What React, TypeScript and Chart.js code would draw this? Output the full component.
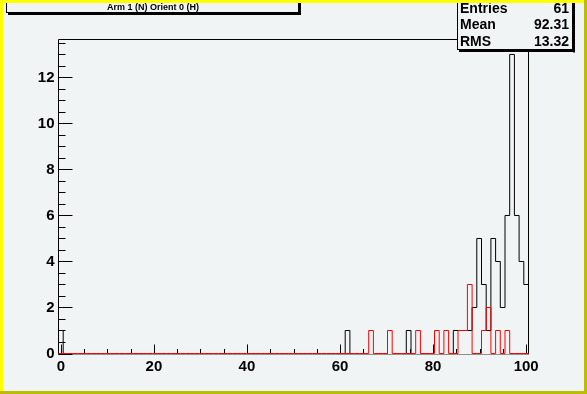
import { useEffect, useRef } from 'react';
import { Chart, registerables } from 'chart.js';

Chart.register(...registerables);

// ---- data ----
const nBins = 100;
const xLow = -0.5;
const xHigh = 100.5;
const yMax = 13.65;

const blackBins = [0, 61, 74, 84, 85, 86, 87, 88, 89, 90, 91, 92, 93, 94, 95, 96, 97, 98, 99];
const blackCounts = [1, 1, 1, 1, 1, 1, 1, 2, 5, 3, 1, 5, 4, 2, 6, 13, 6, 4, 3];

const redBins = [66, 70, 76, 80, 82, 85, 86, 87, 90, 91, 93, 95];
const redCounts = [1, 1, 1, 1, 1, 1, 1, 3, 1, 2, 1, 1];

const xTickLabels = [0, 20, 40, 60, 80, 100];
const yTickLabels = [0, 2, 4, 6, 8, 10, 12];
const xMinorStep = 5;
const yMinorStep = 0.5;

const titleText = 'Arm 1 (N) Orient 0 (H)';
const statsLabels = ['Entries', 'Mean', 'RMS'];
const statsValues = ['61', '92.31', '13.32'];

// ---- helpers ----
const binWidth = (xHigh - xLow) / nBins;
const edge = (k: number) => xLow + k * binWidth;

function fullCounts(bins: number[], counts: number[]): number[] {
  const arr = new Array(nBins).fill(0);
  bins.forEach((b, i) => { arr[b] = counts[i]; });
  return arr;
}

// full outline including the zero baseline
function outline(bins: number[], counts: number[]) {
  const c = fullCounts(bins, counts);
  const pts: { x: number; y: number | null }[] = [{ x: xLow, y: 0 }];
  for (let k = 0; k < nBins; k++) pts.push({ x: edge(k), y: c[k] });
  pts.push({ x: xHigh, y: 0 });
  return pts;
}

// outline of the non-empty runs only (baseline left to the overlaid histogram)
function outlineRuns(bins: number[], counts: number[]) {
  const c = fullCounts(bins, counts);
  const pts: { x: number; y: number | null }[] = [];
  let k = 0;
  while (k < nBins) {
    if (c[k] === 0) { k++; continue; }
    const a = k;
    while (k < nBins && c[k] !== 0) k++;
    pts.push({ x: edge(a), y: 0 });
    for (let j = a; j < k; j++) pts.push({ x: edge(j), y: c[j] });
    pts.push({ x: edge(k), y: 0 });
    pts.push({ x: edge(k), y: null });
  }
  return pts;
}

const BG = '#f1f4f5';
const FONT = "'Liberation Sans', Arial, Helvetica, sans-serif";

const rootPlugin = {
  id: 'rootStyle',
  beforeDraw(chart: any) {
    const ctx = chart.ctx as CanvasRenderingContext2D;
    ctx.save();
    ctx.fillStyle = BG;
    ctx.fillRect(0, 0, chart.width, chart.height);
    ctx.restore();
  },
  beforeDatasetsDraw(chart: any) {
    const ctx = chart.ctx as CanvasRenderingContext2D;
    const xs = chart.scales.x, ys = chart.scales.y;
    const { left, right, top, bottom } = chart.chartArea;
    ctx.save();
    ctx.strokeStyle = '#000';
    ctx.lineWidth = 1;
    ctx.beginPath();
    ctx.moveTo(left, bottom + 1);
    ctx.lineTo(left, top);
    ctx.lineTo(right, top);
    ctx.lineTo(right, bottom + 1);
    ctx.stroke();
    ctx.strokeStyle = '#909090';
    ctx.beginPath();
    ctx.moveTo(left, bottom + 1);
    ctx.lineTo(right, bottom + 1);
    ctx.stroke();
    ctx.strokeStyle = '#000';
    ctx.beginPath();
    for (let v = 0; v <= xTickLabels[xTickLabels.length - 1]; v += xMinorStep) {
      const px = Math.round(xs.getPixelForValue(v)) + 0.5;
      const len = xTickLabels.includes(v) ? 9 : 4.5;
      ctx.moveTo(px, bottom);
      ctx.lineTo(px, bottom - len);
    }
    for (let v = 0; v <= yMax; v += yMinorStep) {
      const py = Math.round(ys.getPixelForValue(v)) + 0.5;
      const len = yTickLabels.includes(v) ? 14 : 7;
      ctx.moveTo(left, py);
      ctx.lineTo(left + len, py);
    }
    ctx.stroke();
    ctx.restore();
  },
  afterDatasetsDraw(chart: any) {
    const ctx = chart.ctx as CanvasRenderingContext2D;
    ctx.save();
    ctx.strokeStyle = '#000';
    ctx.lineWidth = 1;

    // title box
    ctx.fillStyle = BG;
    ctx.fillRect(6.5, 0, 292, 12.5);
    ctx.fillStyle = '#000';
    ctx.fillRect(8, 13, 293, 2);
    ctx.fillRect(299, 0, 2, 15);
    ctx.strokeRect(6.5, -2.5, 292, 15);
    ctx.fillStyle = '#000';
    ctx.font = `bold 9px ${FONT}`;
    ctx.textAlign = 'center';
    ctx.textBaseline = 'middle';
    ctx.fillText(titleText, 153, 8);

    // stats box
    const bx0 = 457.5, bx1 = 572.5, by1 = 49.5;
    ctx.fillStyle = BG;
    ctx.fillRect(bx0, 0, bx1 - bx0, by1);
    ctx.fillStyle = '#000';
    ctx.fillRect(bx0 + 1.5, by1 + 0.5, bx1 - bx0 + 1, 2);
    ctx.fillRect(bx1 + 0.5, 0, 2, by1 + 3);
    ctx.strokeRect(bx0, -2.5, bx1 - bx0, by1 + 2.5);
    ctx.font = `bold 14px ${FONT}`;
    const rowsY = [9, 25.5, 42];
    statsLabels.forEach((lab, i) => {
      ctx.textAlign = 'left';
      ctx.fillText(lab, 460, rowsY[i]);
      ctx.textAlign = 'right';
      ctx.fillText(statsValues[i], 569, rowsY[i]);
    });
    ctx.restore();
  },
  afterDraw(chart: any) {
    const ctx = chart.ctx as CanvasRenderingContext2D;
    const W = chart.width, H = chart.height;
    ctx.save();
    ctx.fillStyle = '#bcbc00';
    ctx.fillRect(W - 3, 0, 3, H);
    ctx.fillRect(0, H - 3, W, 3);
    ctx.fillStyle = '#ffff00';
    ctx.fillRect(0, 0, W - 3, 3);
    ctx.fillRect(0, 0, 3, H - 3);
    ctx.restore();
  },
};

export default function App() {
  const ref = useRef<HTMLCanvasElement | null>(null);
  useEffect(() => {
    if (!ref.current) return;
    const chart = new Chart(ref.current, {
      type: 'line',
      data: {
        datasets: [
          {
            label: 'red',
            data: outline(redBins, redCounts),
            borderColor: '#ff0000',
            borderWidth: 1,
            pointRadius: 0,
            stepped: 'before',
            fill: false,
            clip: 2,
            order: 0,
          },
          {
            label: 'black',
            data: outlineRuns(blackBins, blackCounts),
            borderColor: '#000000',
            borderWidth: 1,
            pointRadius: 0,
            stepped: 'before',
            fill: false,
            spanGaps: false,
            clip: 2,
            order: 1,
          },
        ],
      },
      options: {
        responsive: false,
        animation: false,
        devicePixelRatio: 1,
        events: [],
        layout: { padding: { left: 0, right: 58.5, top: 39.5, bottom: 0 } },
        plugins: { legend: { display: false }, tooltip: { enabled: false }, title: { display: false } },
        scales: {
          x: {
            type: 'linear',
            min: xLow,
            max: xHigh,
            grid: { display: false, drawTicks: false, tickLength: 0 },
            border: { display: false },
            afterBuildTicks: (s: any) => { s.ticks = xTickLabels.map((v) => ({ value: v })); },
            afterFit: (s: any) => { s.height = 40.5; },
            ticks: {
              color: '#000',
              padding: 4,
              maxRotation: 0,
              autoSkip: false,
              font: { family: FONT, weight: 'bold', size: 15 },
            },
          },
          y: {
            type: 'linear',
            min: 0,
            max: yMax,
            grid: { display: false, drawTicks: false, tickLength: 0 },
            border: { display: false },
            afterBuildTicks: (s: any) => { s.ticks = yTickLabels.map((v) => ({ value: v })); },
            afterFit: (s: any) => { s.width = 58.5; },
            ticks: {
              color: '#000',
              padding: 4,
              autoSkip: false,
              font: { family: FONT, weight: 'bold', size: 15 },
            },
          },
        },
      } as any,
      plugins: [rootPlugin],
    });
    return () => chart.destroy();
  }, []);
  return (
    <div style={{ position: 'fixed', left: 0, top: 0, width: 587, height: 394 }}>
      <canvas ref={ref} width={587} height={394} style={{ display: 'block', width: 587, height: 394 }} />
    </div>
  );
}
